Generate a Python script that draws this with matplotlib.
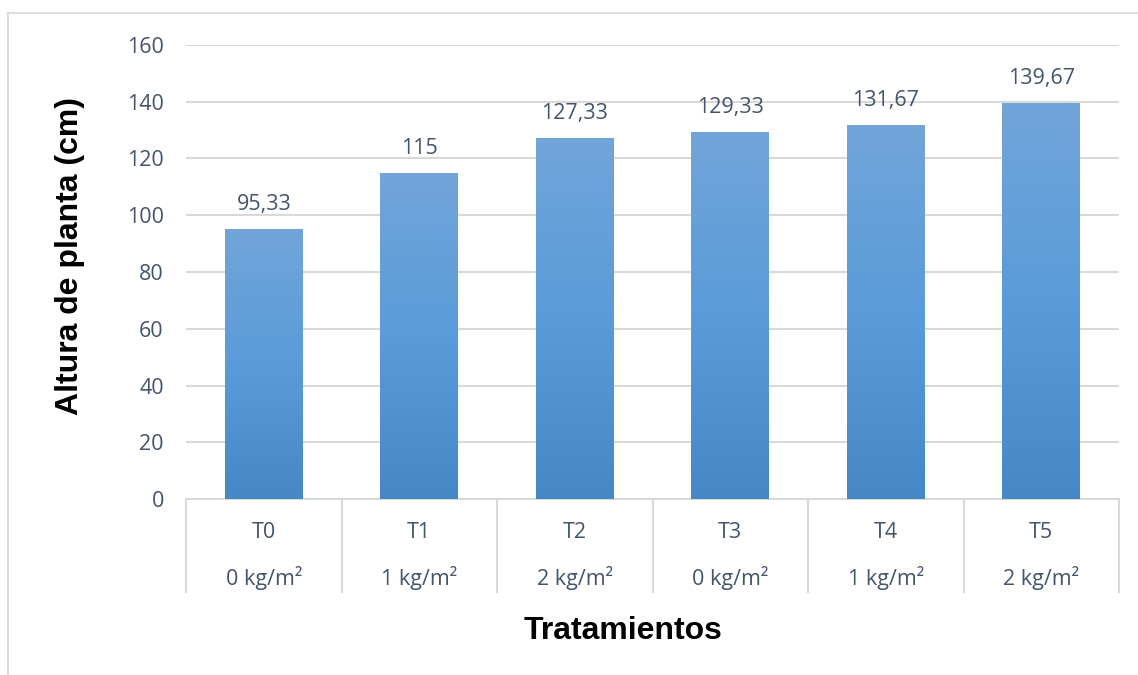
import numpy as np
import matplotlib.pyplot as plt
import matplotlib.transforms as mtransforms
from matplotlib.colors import LinearSegmentedColormap
from matplotlib.patches import Rectangle

# data
tratamientos = ["T0", "T1", "T2", "T3", "T4", "T5"]
dosis = ["0 kg/m²", "1 kg/m²", "2 kg/m²", "0 kg/m²", "1 kg/m²", "2 kg/m²"]
altura = [95.33, 115, 127.33, 129.33, 131.67, 139.67]
etiquetas = ["95,33", "115", "127,33", "129,33", "131,67", "139,67"]

text_col = "#44546A"
grid_col = "#D9D9D9"
tick_font = "Open Sans"
fs = 15.5

fig = plt.figure(figsize=(11.38, 6.75), dpi=100)
ax = fig.add_axes([186 / 1138, 1 - 499 / 675, (1119 - 186) / 1138, 454 / 675])

# outer chart border (cropped on right and bottom)
fig.patches.append(Rectangle((8 / 1138, -0.1), 1.2, 1 - 13 / 675 + 0.1,
                             transform=fig.transFigure, fill=False,
                             edgecolor="#D9DEE5", linewidth=1.5))

x = np.arange(len(altura))
bars = ax.bar(x, altura, width=0.5, color="#5B9BD5", zorder=2)

# vertical gradient inside each bar
cmap = LinearSegmentedColormap.from_list("g", ["#4688C6", "#5A9BD9", "#72A5DA"])
grad = np.linspace(0, 1, 256).reshape(-1, 1)
for b in bars:
    x0, w, h = b.get_x(), b.get_width(), b.get_height()
    im = ax.imshow(grad, cmap=cmap, origin="lower", aspect="auto",
                   extent=(x0, x0 + w, 0, h), zorder=3)
    im.set_clip_path(b)

ax.set_xlim(-0.5, len(altura) - 0.5)
ax.set_ylim(0, 160)
ax.set_yticks(np.arange(0, 161, 20))
ax.yaxis.grid(True, color=grid_col, linewidth=1.5, zorder=0)
ax.set_axisbelow(True)
for s in ["top", "right", "left"]:
    ax.spines[s].set_visible(False)
ax.spines["bottom"].set_color(grid_col)
ax.spines["bottom"].set_linewidth(1.5)
ax.tick_params(axis="y", length=0, pad=16, labelsize=fs, labelcolor=text_col)
ax.tick_params(axis="x", length=0, labelbottom=False)
for lab in ax.get_yticklabels():
    lab.set_fontfamily(tick_font)

# data labels
for xi, v, t in zip(x, altura, etiquetas):
    ax.annotate(t, (xi, v), xytext=(0, 10), textcoords="offset points",
                ha="center", va="bottom", fontsize=fs, color=text_col,
                family=tick_font)

# two-level category axis
trans = mtransforms.blended_transform_factory(ax.transData, ax.transAxes)
for xi, t, d in zip(x, tratamientos, dosis):
    ax.text(xi, -0.073, t, transform=trans, ha="center", va="center",
            fontsize=fs, color=text_col, family=tick_font)
    ax.text(xi, -0.174, d, transform=trans, ha="center", va="center",
            fontsize=fs, color=text_col, family=tick_font)
for b in np.arange(-0.5, len(altura), 1.0):
    ax.plot([b, b], [0, -0.205], transform=trans, color=grid_col,
            linewidth=1.5, clip_on=False)

fig.text(623 / 1138, 1 - 631 / 675, "Tratamientos", ha="center", va="center",
         fontsize=23, fontweight="bold", family="Liberation Sans")
fig.text(70 / 1138, 1 - 256 / 675, "Altura de planta (cm)", ha="center",
         va="center", rotation=90, fontsize=23, fontweight="bold",
         family="Liberation Sans")

fig.savefig("out.png", dpi=100)
